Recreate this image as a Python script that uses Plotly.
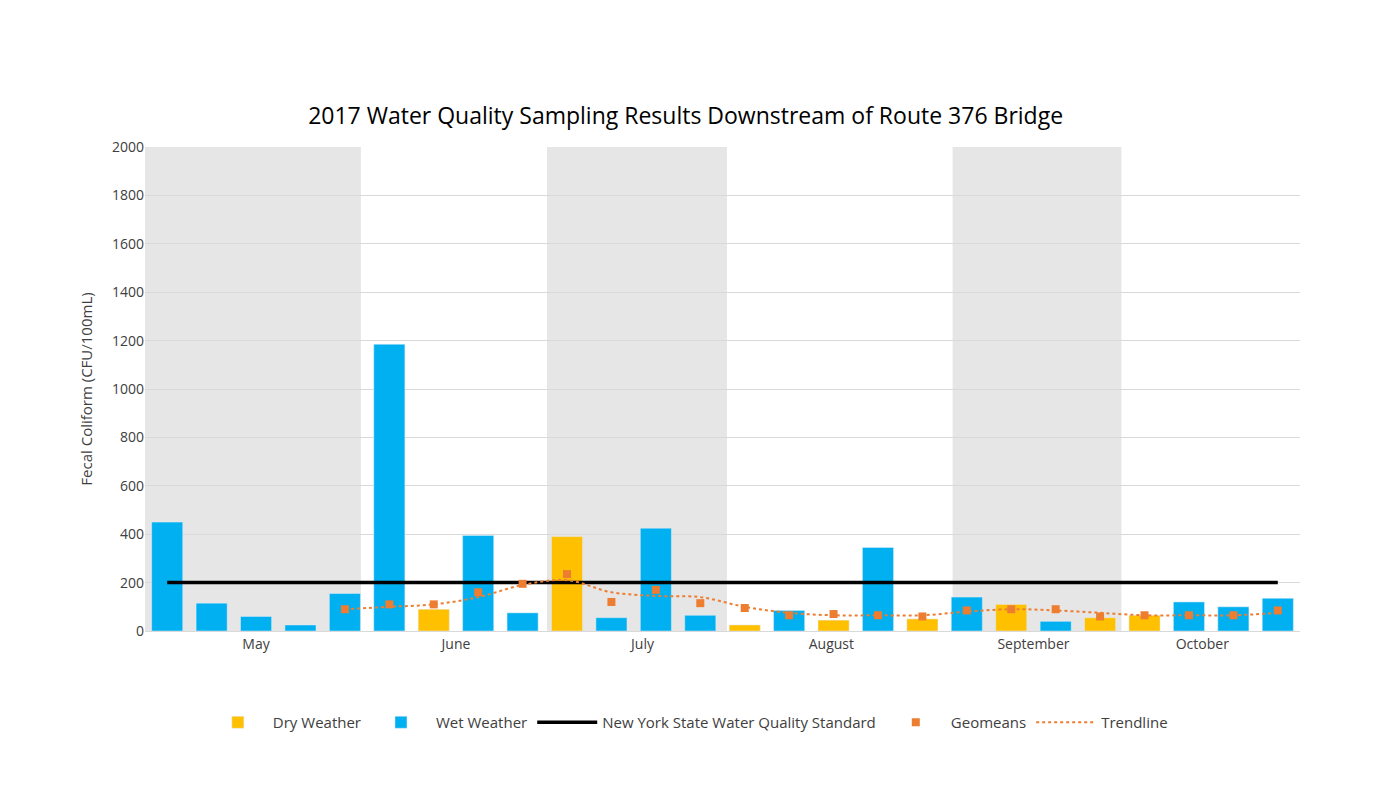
import plotly.graph_objects as go

slots = list(range(26))
weather = ["W","W","W","W","W","W","D","W","W","D","W","W","W","D","W","D","W","D","W","D","W","D","D","W","W","W"]
values = [450,115,60,25,155,1185,90,395,75,390,55,425,65,25,85,45,345,50,140,110,40,55,65,120,100,135]
geo_x = list(range(4,26))
geomeans = [90,110,110,160,195,235,120,170,115,95,65,70,65,60,85,90,90,60,65,65,65,85]
trend = [90,100,110,140,190,210,160,145,140,100,75,65,65,65,80,90,85,75,65,65,65,75]
standard = 200
months = ["May","June","July","August","September","October"]
month_pos = [2,6.5,10.7,14.95,19.5,23.3]
shade = [(-0.5,4.36),(8.55,12.6),(17.68,21.48)]

fig = go.Figure()
fig.add_bar(x=slots, y=[v if w=="D" else None for v,w in zip(values,weather)],
            name="Dry Weather", marker_color="#FFC000", width=0.7)
fig.add_bar(x=slots, y=[v if w=="W" else None for v,w in zip(values,weather)],
            name="Wet Weather", marker_color="#00B0F0", width=0.7)
fig.add_scatter(x=[0,25], y=[standard,standard], mode="lines",
                line=dict(color="black", width=3.5), name="New York State Water Quality Standard")
fig.add_scatter(x=geo_x, y=geomeans, mode="markers",
                marker=dict(symbol="square", color="#ED7D31", size=8), name="Geomeans")
fig.add_scatter(x=geo_x, y=trend, mode="lines", line=dict(color="#ED7D31", dash="dot", width=2, shape="spline"),
                name="Trendline")
for a,b in shade:
    fig.add_shape(type="rect", xref="x", yref="paper", x0=a, x1=b, y0=0, y1=1,
                  fillcolor="#E6E6E6", line_width=0, layer="below")
fig.update_layout(
    width=1400, height=788, barmode="overlay", plot_bgcolor="white", paper_bgcolor="white",
    margin=dict(l=137, r=108, t=139, b=165),
    font=dict(family="Open Sans, Liberation Sans, sans-serif", color="#404040", size=14),
    title=dict(text="2017 Water Quality Sampling Results Downstream of Route 376 Bridge",
               x=0.484, y=0.863, xanchor="center", yanchor="middle", font=dict(size=23, color="black")),
    legend=dict(orientation="h", x=0.47, xanchor="center", y=-0.155, yanchor="top",
                font=dict(size=15), itemwidth=60, tracegroupgap=0),
    xaxis=dict(range=[-0.5,25.5], tickvals=month_pos, ticktext=months, showgrid=False,
               showline=True, linecolor="#D9D9D9", ticks="", zeroline=False),
    yaxis=dict(range=[0,2000], dtick=200, showgrid=True, gridcolor="#D9D9D9", zeroline=False,
               title=dict(text="Fecal Coliform (CFU/100mL)", font=dict(size=15)), ticks=""),
)
fig.write_html("out.html")
